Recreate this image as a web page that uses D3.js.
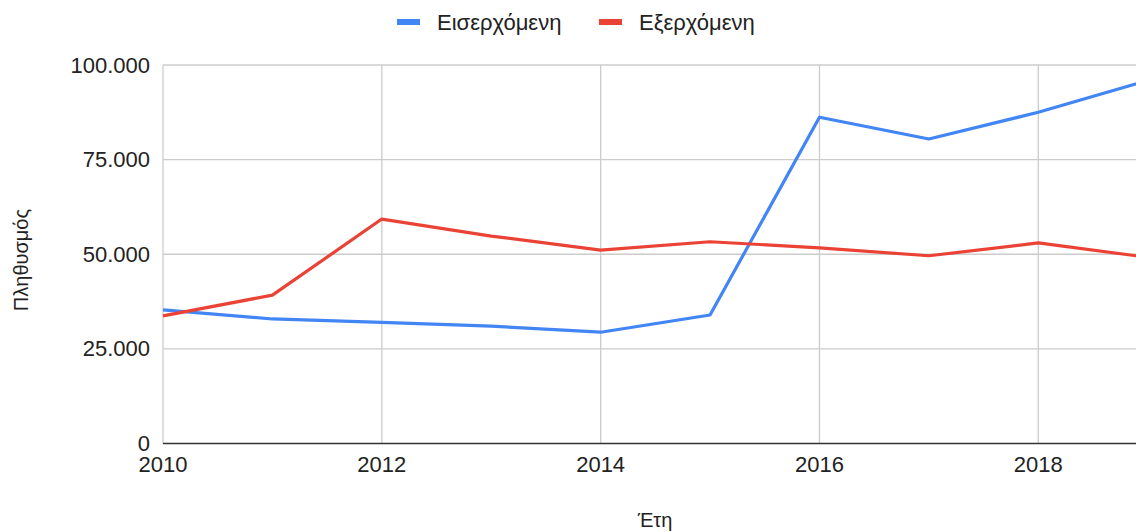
<!DOCTYPE html>
<html>
<head>
<meta charset="utf-8">
<script src="https://cdn.jsdelivr.net/npm/d3@7"></script>
<style>
	body { margin: 0; background: #fff; }
	svg { display: block; font-family: "Liberation Sans", Arial, sans-serif; }
</style>
</head>
<body>
<div id="chart"></div>
<script>
	const years = [2010, 2011, 2012, 2013, 2014, 2015, 2016, 2017, 2018, 2019];
	const incoming = [35300, 32900, 32000, 31000, 29400, 33950, 86200, 80450, 87500, 95900];
	const outgoing = [33700, 39200, 59300, 54800, 51100, 53300, 51700, 49600, 53000, 49200];
	const seriesNames = ['Εισερχόμενη', 'Εξερχόμενη'];
	const seriesColors = ['#4285f4', '#ea4335'];
	const yTicks = [0, 25000, 50000, 75000, 100000];
	const xTicks = [2010, 2012, 2014, 2016, 2018];

	const width = 1136;
	const height = 532;

	const x = d3.scaleLinear().domain([2010, 2019]).range([163, 1147.7]);
	const y = d3.scaleLinear().domain([0, 100000]).range([443.5, 65]);

	const fmt = d3.formatLocale({ decimal: ',', thousands: '.', grouping: [3], currency: ['', '€'] }).format(',d');

	const svg = d3.select('#chart')
		.append('svg')
		.attr('width', width)
		.attr('height', height);

	// gridlines
	svg.append('g')
		.selectAll('line')
		.data(yTicks.filter((d) => d > 0))
		.join('line')
		.attr('x1', x(2010))
		.attr('x2', width)
		.attr('y1', (d) => y(d))
		.attr('y2', (d) => y(d))
		.attr('stroke', '#cccccc')
		.attr('stroke-width', 1.3);

	svg.append('g')
		.selectAll('line')
		.data(xTicks)
		.join('line')
		.attr('x1', (d) => x(d))
		.attr('x2', (d) => x(d))
		.attr('y1', y(100000))
		.attr('y2', y(0))
		.attr('stroke', '#cccccc')
		.attr('stroke-width', 1.3);

	// baseline
	svg.append('line')
		.attr('x1', x(2010))
		.attr('x2', width)
		.attr('y1', y(0))
		.attr('y2', y(0))
		.attr('stroke', '#333333')
		.attr('stroke-width', 1.3);

	// y tick labels
	svg.append('g')
		.selectAll('text')
		.data(yTicks)
		.join('text')
		.attr('x', 150)
		.attr('y', (d) => y(d) + 7.5)
		.attr('text-anchor', 'end')
		.attr('font-size', 22)
		.attr('fill', '#222')
		.text((d) => fmt(d));

	// x tick labels
	svg.append('g')
		.selectAll('text')
		.data(xTicks)
		.join('text')
		.attr('x', (d) => x(d))
		.attr('y', 472)
		.attr('text-anchor', 'middle')
		.attr('font-size', 22)
		.attr('fill', '#222')
		.text((d) => d);

	// axis titles
	svg.append('text')
		.attr('x', 655)
		.attr('y', 527)
		.attr('text-anchor', 'middle')
		.attr('font-size', 20)
		.attr('fill', '#222')
		.text('Έτη');

	svg.append('text')
		.attr('transform', 'translate(28,260) rotate(-90)')
		.attr('text-anchor', 'middle')
		.attr('font-size', 20)
		.attr('fill', '#222')
		.text('Πληθυσμός');

	// lines
	const line = d3.line()
		.x((d, i) => x(years[i]))
		.y((d) => y(d));

	svg.append('g')
		.selectAll('path')
		.data([incoming, outgoing])
		.join('path')
		.attr('d', (d) => line(d))
		.attr('fill', 'none')
		.attr('stroke', (d, i) => seriesColors[i])
		.attr('stroke-width', 3.2)
		.attr('stroke-linejoin', 'round');

	// legend
	const legendX = [397, 599];
	const legend = svg.append('g')
		.selectAll('g')
		.data(seriesNames)
		.join('g')
		.attr('transform', (d, i) => `translate(${legendX[i]},22)`);

	legend.append('rect')
		.attr('x', 0)
		.attr('y', -3)
		.attr('width', 23)
		.attr('height', 6)
		.attr('fill', (d, i) => seriesColors[i]);

	legend.append('text')
		.attr('x', 40)
		.attr('y', 7.5)
		.attr('font-size', 22)
		.attr('fill', '#222')
		.text((d) => d);
</script>
</body>
</html>
